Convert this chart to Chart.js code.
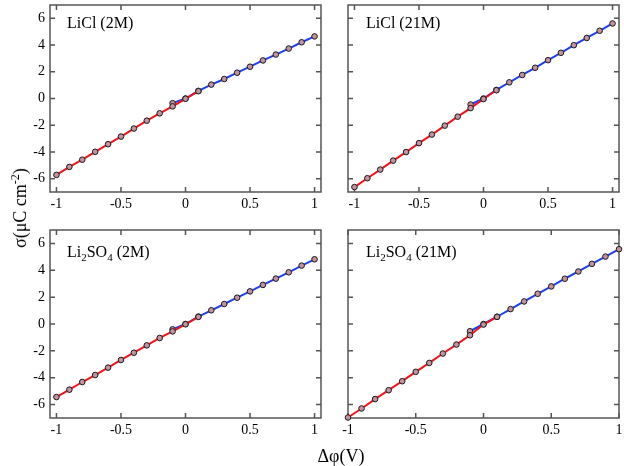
<!DOCTYPE html>
<html>
<head>
<meta charset="utf-8">
<script src="https://cdn.jsdelivr.net/npm/chart.js@4/dist/chart.umd.min.js"></script>
<style>
  html, body { margin:0; padding:0; background:#fff; }
  #wrap { position:relative; width:624px; height:466px; overflow:hidden; font-family:"Liberation Serif","Times New Roman",serif; color:#000; }
  canvas { position:absolute; left:0; top:0; pointer-events:none; }
  .lbl { position:absolute; font-size:16px; line-height:1; white-space:nowrap; }
  .lbl sub { font-size:11px; vertical-align:-4px; line-height:0; }
  #ytitle { position:absolute; left:20px; top:208px; transform:translate(-50%,-50%) rotate(-90deg); font-size:18px; white-space:nowrap; line-height:1; }
  #ytitle sup { font-size:12px; vertical-align:7px; line-height:0; }
  #xtitle { position:absolute; left:341px; top:456px; transform:translate(-50%,-50%); font-size:18px; white-space:nowrap; line-height:1; }
</style>
</head>
<body>
<div id="wrap">
  <canvas id="c1" width="624" height="466"></canvas>
  <canvas id="c2" width="624" height="466"></canvas>
  <canvas id="c3" width="624" height="466"></canvas>
  <canvas id="c4" width="624" height="466"></canvas>
  <div class="lbl" style="left:67px;top:15px;">LiCl (2M)</div>
  <div class="lbl" style="left:366px;top:15px;">LiCl (21M)</div>
  <div class="lbl" style="left:67px;top:244px;">Li<sub>2</sub>SO<sub>4</sub> (2M)</div>
  <div class="lbl" style="left:366px;top:244px;">Li<sub>2</sub>SO<sub>4</sub> (21M)</div>
  <div id="ytitle">σ(μC cm<sup>-2</sup>)</div>
  <div id="xtitle">Δφ(V)</div>
</div>
<script>
// ---- data ----
const xRed  = [-1, -0.9, -0.8, -0.7, -0.6, -0.5, -0.4, -0.3, -0.2, -0.1, 0, 0.1];
const xBlue = [-0.1, 0, 0.1, 0.2, 0.3, 0.4, 0.5, 0.6, 0.7, 0.8, 0.9, 1];

const liCl2Red   = [-5.72, -5.12, -4.58, -3.99, -3.42, -2.85, -2.25, -1.66, -1.11, -0.59, -0.02, 0.55];
const liCl2Blue  = [-0.35, 0, 0.57, 1.04, 1.46, 1.93, 2.38, 2.85, 3.29, 3.74, 4.21, 4.65];
const liCl21Red  = [-6.63, -5.97, -5.32, -4.65, -4.01, -3.34, -2.70, -2.03, -1.36, -0.72, -0.04, 0.62];
const liCl21Blue = [-0.45, 0, 0.64, 1.21, 1.76, 2.30, 2.87, 3.42, 3.99, 4.53, 5.07, 5.62];
const li2so4_2Red   = [-5.44, -4.89, -4.32, -3.80, -3.25, -2.68, -2.14, -1.59, -1.04, -0.55, -0.02, 0.53];
const li2so4_2Blue  = [-0.40, 0, 0.55, 1.02, 1.49, 1.96, 2.43, 2.91, 3.38, 3.85, 4.35, 4.82];
const li2so4_21Red  = [-6.96, -6.29, -5.59, -4.93, -4.26, -3.56, -2.90, -2.20, -1.53, -0.84, -0.04, 0.53];
const li2so4_21Blue = [-0.54, 0, 0.54, 1.11, 1.68, 2.25, 2.80, 3.37, 3.91, 4.48, 5.02, 5.57];

const xTicks = [-1, -0.5, 0, 0.5, 1];
const yTicks = [-6, -4, -2, 0, 2, 4, 6];
const xTickLabels = ['-1', '-0.5', '0', '0.5', '1'];
const yTickLabels = ['-6', '-4', '-2', '0', '2', '4', '6'];

// ---- styling ----
const FONT = '"Liberation Serif","Times New Roman",serif';
const FRAME = '#555555';
const RED = '#f2141b';
const BLUE = '#1f3ff0';
const MARK = '#c4919f';

const framePlugin = {
  id: 'frame',
  beforeDatasetsDraw(chart) {
    const { ctx, chartArea: a, scales: { x, y } } = chart;
    ctx.save();
    ctx.strokeStyle = FRAME;
    ctx.lineWidth = 1.5;
    ctx.strokeRect(a.left, a.top, a.right - a.left, a.bottom - a.top);
    ctx.beginPath();
    const L = 5;
    xTicks.forEach(v => {
      const px = x.getPixelForValue(v);
      ctx.moveTo(px, a.bottom); ctx.lineTo(px, a.bottom - L);
      ctx.moveTo(px, a.top); ctx.lineTo(px, a.top + L);
    });
    yTicks.forEach(v => {
      const py = y.getPixelForValue(v);
      ctx.moveTo(a.left, py); ctx.lineTo(a.left + L, py);
      ctx.moveTo(a.right, py); ctx.lineTo(a.right - L, py);
    });
    ctx.stroke();
    ctx.restore();
  }
};

function pts(xs, ys) { return xs.map((v, i) => ({ x: v, y: ys[i] })); }

function makePanel(id, red, blue, box, showY, xmin, xmax) {
  const W = 624, H = 466, XH = 22;
  new Chart(document.getElementById(id), {
    type: 'scatter',
    data: {
      datasets: [
        { data: pts(xRed, red), showLine: true, borderColor: RED, borderWidth: 2,
          pointBackgroundColor: MARK, pointBorderColor: '#1a1a1a', pointBorderWidth: 1,
          pointRadius: 2.8, clip: false, tension: 0 },
        { data: pts(xBlue, blue), showLine: true, borderColor: BLUE, borderWidth: 2,
          pointBackgroundColor: MARK, pointBorderColor: '#1a1a1a', pointBorderWidth: 1,
          pointRadius: 2.8, clip: false, tension: 0 }
      ]
    },
    options: {
      responsive: false,
      animation: false,
      events: [],
      layout: { padding: { left: 0, top: box.top, right: W - box.right, bottom: H - box.bottom - XH } },
      plugins: { legend: { display: false }, tooltip: { enabled: false } },
      scales: {
        x: {
          type: 'linear', min: xmin, max: xmax,
          afterBuildTicks: s => { s.ticks = xTicks.map(v => ({ value: v })); },
          afterFit: s => { s.height = XH; s.paddingLeft = 0; s.paddingRight = 0; },
          grid: { display: false, drawTicks: false },
          border: { display: false },
          ticks: { color: '#000', font: { family: FONT, size: 14 }, padding: 4, maxRotation: 0, autoSkip: false,
                   callback: (v) => xTickLabels[xTicks.indexOf(v)] }
        },
        y: {
          type: 'linear', min: -7, max: 7,
          afterBuildTicks: s => { s.ticks = yTicks.map(v => ({ value: v })); },
          afterFit: s => { s.width = box.left; s.paddingTop = 0; s.paddingBottom = 0; },
          grid: { display: false, drawTicks: false },
          border: { display: false },
          ticks: { display: showY, color: '#000', font: { family: FONT, size: 14 }, padding: 5, autoSkip: false,
                   callback: (v) => yTickLabels[yTicks.indexOf(v)] }
        }
      }
    },
    plugins: [framePlugin]
  });
}

makePanel('c1', liCl2Red, liCl2Blue, { left: 50, right: 321, top: 3, bottom: 192 }, true, -1.05, 1.05);
makePanel('c2', liCl21Red, liCl21Blue, { left: 348, right: 619, top: 3, bottom: 192 }, false, -1.05, 1.05);
makePanel('c3', li2so4_2Red, li2so4_2Blue, { left: 50, right: 321, top: 230, bottom: 418 }, true, -1.05, 1.05);
makePanel('c4', li2so4_21Red, li2so4_21Blue, { left: 348, right: 619, top: 230, bottom: 418 }, false, -1, 1);
</script>
</body>
</html>
